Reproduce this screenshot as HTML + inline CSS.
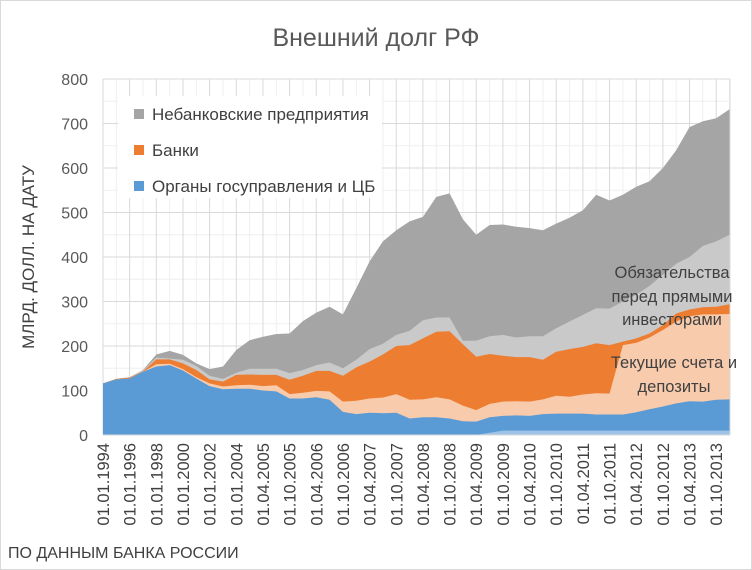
<!DOCTYPE html>
<html><head><meta charset="utf-8">
<style>
body{margin:0;background:#fff;}
#w{position:relative;width:752px;height:570px;overflow:hidden;font-family:"Liberation Sans",sans-serif;}
</style></head>
<body><div id="w">
<svg id="s" width="752" height="570" xmlns="http://www.w3.org/2000/svg" style="position:absolute;left:0;top:0">
<rect x="0.5" y="0.5" width="751" height="569" fill="#fff" stroke="#d9d9d9"/>
<g id="grid"></g>
<g id="areas"></g>
<line x1="103" y1="435" x2="730" y2="435" stroke="#d9d9d9" stroke-width="1"/>
<text x="376" y="46" font-size="25" fill="#595959" text-anchor="middle" font-family="Liberation Sans, sans-serif">Внешний долг РФ</text>
<g id="yl" font-size="16" fill="#595959" text-anchor="end"></g>
<text transform="translate(34,257) rotate(-90)" font-size="17" fill="#404040" text-anchor="middle">МЛРД. ДОЛЛ. НА ДАТУ</text>
<g id="xl" font-size="16.5" fill="#404040"></g>
<rect x="118" y="96" width="264" height="102" fill="#fff"/>
<rect x="134" y="109" width="10" height="10" fill="#a5a5a5"/>
<text x="152" y="120" font-size="17" fill="#404040">Небанковские предприятия</text>
<rect x="134" y="145" width="10" height="10" fill="#ed7d31"/>
<text x="152" y="156" font-size="17" fill="#404040">Банки</text>
<rect x="134" y="181" width="10" height="10" fill="#5b9bd5"/>
<text x="152" y="192" font-size="17" fill="#404040">Органы госуправления и ЦБ</text>
<g font-size="16.5" fill="#404040" text-anchor="middle">
<text x="672" y="278">Обязательства</text>
<text x="672" y="302">перед прямыми</text>
<text x="672" y="325">инвесторами</text>
<text x="674" y="368">Текущие счета и</text>
<text x="674" y="392">депозиты</text>
</g>
<text x="8" y="558" font-size="16" fill="#404040">ПО ДАННЫМ БАНКА РОССИИ</text>
</svg>
<script>
var NS="http://www.w3.org/2000/svg";
function el(t,a,p){var e=document.createElementNS(NS,t);for(var k in a)e.setAttribute(k,a[k]);p.appendChild(e);return e;}
var X0=103,X1=730,Y0=435,K=0.445;
function Y(v){return Y0-v*K;}
var g=document.getElementById('grid');
for(var v=50;v<=800;v+=100) el('line',{x1:X0,x2:X1,y1:Y(v),y2:Y(v),stroke:'#efefef'},g);
for(var i=1;i<=47;i+=2){var x=X0+13.33*i;el('line',{x1:x,x2:x,y1:Y(800),y2:Y0,stroke:'#efefef'},g);}
for(var v=0;v<=800;v+=100) el('line',{x1:X0,x2:X1,y1:Y(v),y2:Y(v),stroke:'#d9d9d9'},g);
for(var i=0;i<=47;i+=2){var x=X0+13.33*i;el('line',{x1:x,x2:x,y1:Y(800),y2:Y0,stroke:'#d9d9d9'},g);}
el('line',{x1:X1,x2:X1,y1:Y(800),y2:Y0,stroke:'#d9d9d9'},g);
var yl=document.getElementById('yl');
for(var v=0;v<=800;v+=100){var t=el('text',{x:88,y:Y(v)+6},yl);t.textContent=v;}
var labs=["01.01.1994","01.01.1996","01.01.1998","01.01.2000","01.01.2002","01.01.2004","01.04.2005","01.10.2005","01.04.2006","01.10.2006","01.04.2007","01.10.2007","01.04.2008","01.10.2008","01.04.2009","01.10.2009","01.04.2010","01.10.2010","01.04.2011","01.10.2011","01.04.2012","01.10.2012","01.04.2013","01.10.2013"];
var xl=document.getElementById('xl');
for(var k=0;k<labs.length;k++){var x=X0+26.66*k+6;var t=el('text',{transform:'translate('+x+',443) rotate(-90)','text-anchor':'end'},xl);t.textContent=labs[k];}
var strip=[],blue=[116,125,127,142,154,157,145,127,110,103,104,104,100,98,82,82,85,79,52,47,50,49,50,37,40,40,37,31,30,40,43,44,43,47,48,48,48,46,46,46,51,58,64,71,76,75,79,80];
for(var i=0;i<48;i++)strip.push(i<29?0:(i==29?5:10));
var peach=[116,125,127,142,159,160,148,130,116,109,112,113,110,112,92,95,99,98,75,77,82,84,92,79,80,85,80,66,56,70,75,76,75,80,88,86,91,94,93,202,207,219,236,255,267,271,271,272];
var orange=[116,126,129,143,170,170,161,146,125,120,135,136,135,135,124,133,144,144,133,152,165,181,200,202,217,232,233,204,176,182,178,175,175,169,187,193,198,206,202,210,217,228,247,273,282,287,288,294];
var lgray=[116,126,130,145,174,172,169,155,133,126,140,149,149,149,139,146,157,163,150,169,193,205,225,234,258,264,264,212,212,222,225,219,222,222,240,255,270,285,284,300,315,335,360,385,400,425,435,450];
var total=[116,126,130,146,181,189,180,161,148,154,191,213,221,227,228,256,275,288,271,330,390,435,460,480,490,535,543,485,450,472,473,468,465,460,475,488,505,540,527,540,558,570,600,640,692,705,712,732];
var ar=document.getElementById('areas');
function area(top,col){var p='M'+X0+','+Y0;for(var i=0;i<top.length;i++){p+=' L'+(X0+13.33*i).toFixed(1)+','+Y(top[i]).toFixed(1);}p+=' L'+(X0+13.33*47).toFixed(1)+','+Y0+' Z';el('path',{d:p,fill:col},ar);}
area(total,'#a5a5a5');area(lgray,'#c9c9c9');area(orange,'#ed7d31');area(peach,'#f8cbad');area(blue,'#5b9bd5');area(strip,'#9dc3e6');
</script>
</div></body></html>
